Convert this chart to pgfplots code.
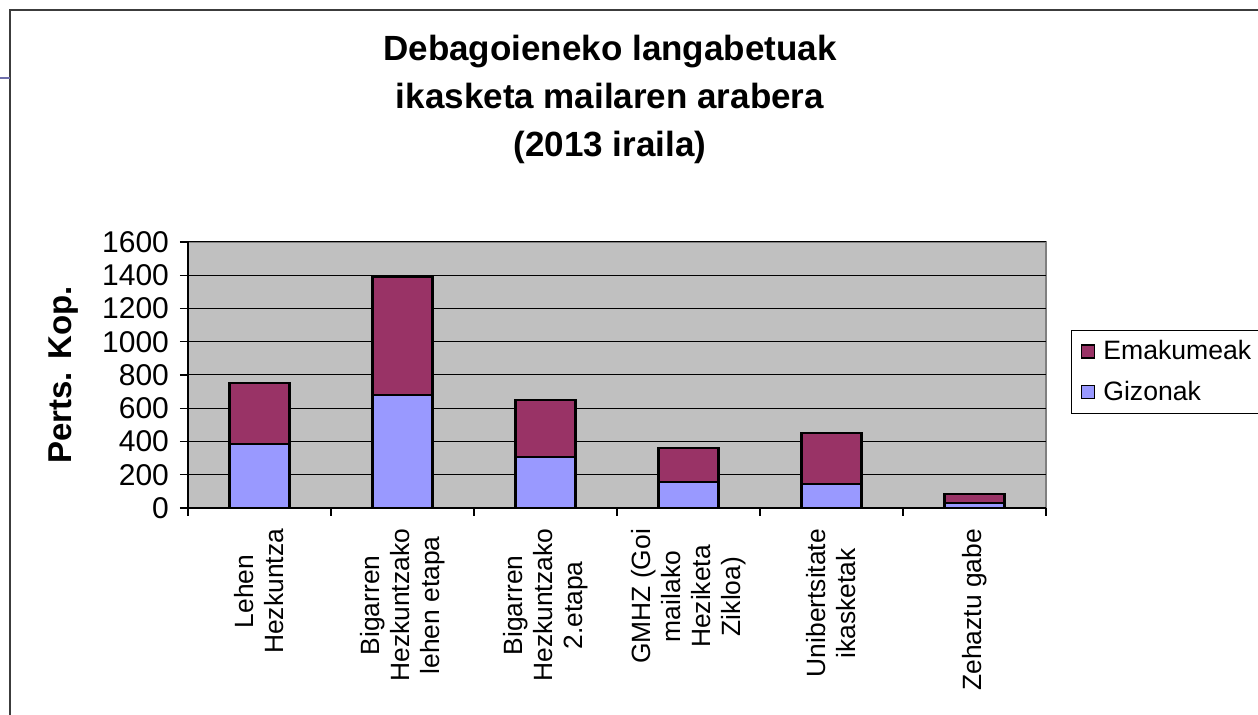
\documentclass[border=0pt]{standalone}
\usepackage{pgfplots}
\pgfplotsset{compat=1.18}
\usepackage{fontspec}
\setmainfont{Liberation Sans}
\definecolor{emak}{RGB}{153,51,102}
\definecolor{gizo}{RGB}{153,153,255}
\definecolor{plotbg}{RGB}{192,192,192}
\definecolor{framec}{RGB}{60,60,60}
\definecolor{lilac}{RGB}{110,110,170}

\begin{document}
\begin{tikzpicture}
\useasboundingbox (0,0) rectangle (629pt,357.5pt);
\draw[line width=1pt, framec] (5pt,-5pt) -- (5pt,352.5pt) -- (640pt,352.5pt);
\draw[line width=0.7pt, lilac] (0,318.5pt) -- (5pt,318.5pt);
\node[align=center, font=\bfseries\fontsize{17.5}{24}\selectfont] at (305pt,308pt)
  {Debagoieneko langabetuak\\ ikasketa mailaren arabera\\(2013 iraila)};
\begin{axis}[
  at={(94pt,103.5pt)}, anchor=south west,
  scale only axis, width=429pt, height=133pt,
  ybar stacked, bar width=30pt,
  xmin=-0.5, xmax=5.5, ymin=0, ymax=1600,
  ytick={0,200,...,1600},
  minor ytick={0,200,...,1600},
  xtick={0,...,5},
  xticklabels={{Lehen\\Hezkuntza},{Bigarren\\Hezkuntzako\\lehen etapa},{Bigarren\\Hezkuntzako\\2.etapa},{GMHZ (Goi\\mailako\\Heziketa\\Zikloa)},{Unibertsitate\\ikasketak},{Zehaztu gabe}},
  minor xtick={-0.5,0.5,...,5.5},
  axis x line*=bottom, axis y line*=left,
  axis line style={-, black, line width=0.8pt},
  every inner x axis line/.append style={-},
  every inner y axis line/.append style={-},
  axis background/.style={fill=plotbg, draw=gray, line width=0.8pt},
  tick align=outside,
  xtick pos=bottom, ytick pos=left,
  major tick length=0pt, minor tick length=4pt,
  tick style={black, line width=0.6pt},
  ymajorgrids, major grid style={black, line width=0.5pt},
  /pgf/number format/1000 sep={},
  /pgf/number format/assume math mode=true,
  yticklabel style={font=\fontsize{15}{16}\selectfont, xshift=-6pt},
  xticklabel style={font=\fontsize{13.2}{15}\selectfont, rotate=90, anchor=east, align=center},
  xticklabel shift=7pt,
  ylabel={Perts. Kop.},
  ylabel style={font=\bfseries\fontsize{16.5}{18}\selectfont, at={(axis description cs:-0.145,0.5)}, anchor=center},
  legend style={at={(1.029,0.669)}, anchor=north west, draw=black, line width=0.5pt,
    font=\fontsize{13.3}{16}\selectfont, row sep=5pt, inner sep=3pt},
  legend cell align=left,
  reverse legend,
  legend image code/.code={\path[draw=none, fill=none] (-1pt,0) -- (10pt,0); \draw[#1, draw=black, line width=0.8pt] (1pt,-3.3pt) rectangle (7.6pt,3.3pt);},
]
\addplot[fill=gizo, draw=black, line width=1.1pt] coordinates {(0,385) (1,678) (2,309) (3,155) (4,144) (5,28)};
\addplot[fill=emak, draw=black, line width=1.1pt] coordinates {(0,369) (1,713) (2,342) (3,204) (4,305) (5,54)};
\legend{Gizonak, Emakumeak}
\end{axis}
\end{tikzpicture}
\end{document}
